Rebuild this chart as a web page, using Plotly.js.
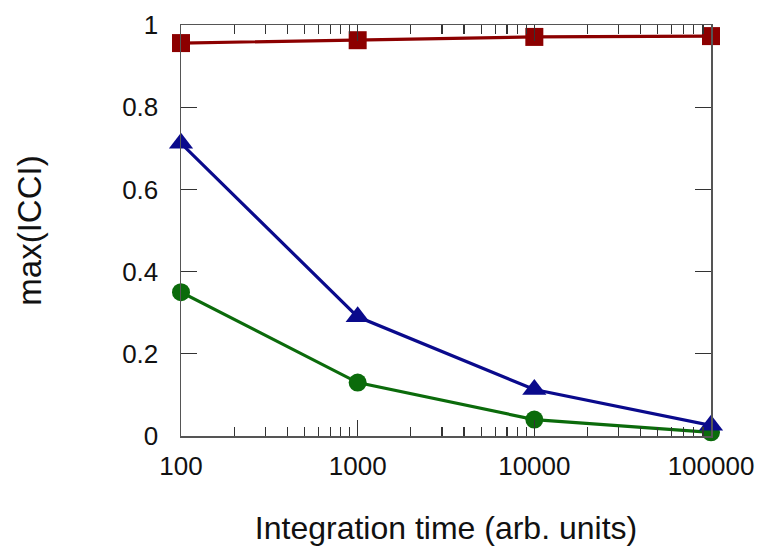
<!DOCTYPE html>
<html>
<head>
<meta charset="utf-8">
<script src="https://cdn.plot.ly/plotly-3.0.1.min.js"></script>
<style>html,body{margin:0;padding:0;background:#fff}#chart{width:758px;height:546px}</style>
</head>
<body>
<div id="chart"></div>
<script>
const integrationTime = [100, 1000, 10000, 100000];
const redSquares = [0.956, 0.963, 0.971, 0.973];
const blueTriangles = [0.712, 0.290, 0.113, 0.026];
const greenCircles = [0.350, 0.130, 0.040, 0.009];
const xTickVals = [100, 1000, 10000, 100000];
const xTickText = ['100', '1000', '10000', '100000'];
const yTickVals = [0, 0.2, 0.4, 0.6, 0.8, 1];
const yTickText = ['0', '0.2', '0.4', '0.6', '0.8', '1'];

const FONT = 'Liberation Sans, Arial, sans-serif';

function series(y, color, symbol, size) {
  return {
    x: integrationTime, y: y, type: 'scatter', mode: 'lines+markers',
    line: {color: color, width: 3.2},
    marker: {color: color, symbol: symbol, size: size},
    cliponaxis: false, showlegend: false
  };
}

const data = [
  series(greenCircles, '#0b6b0b', 'circle', 18),
  series(blueTriangles, '#0a0a8c', 'triangle-up', 21),
  series(redSquares, '#8c0000', 'square', 18)
];

const axisCommon = {
  showgrid: false, zeroline: false, showline: true, linecolor: '#555', linewidth: 1.5,
  mirror: 'ticks', ticks: 'inside', ticklen: 16, tickwidth: 1.2, tickcolor: '#333',
  tickfont: {family: FONT, size: 26, color: '#111'}
};

const layout = {
  width: 758, height: 546,
  margin: {l: 181, r: 47, t: 25, b: 110},
  paper_bgcolor: '#fff', plot_bgcolor: '#fff',
  xaxis: Object.assign({}, axisCommon, {
    type: 'log', range: [2, 5],
    tickmode: 'array', tickvals: xTickVals, ticktext: xTickText,
    ticklabelstandoff: 6,
    minor: {ticks: 'inside', ticklen: 9, tickwidth: 1.2, tickcolor: '#333', dtick: 'D1', showgrid: false},
    title: {text: 'Integration time (arb. units)', font: {family: FONT, size: 32, color: '#111'}, standoff: 39}
  }),
  yaxis: Object.assign({}, axisCommon, {
    range: [0, 1], tickmode: 'array', tickvals: yTickVals, ticktext: yTickText,
    ticklabelstandoff: 16,
    title: {text: 'max(ICCI)', font: {family: FONT, size: 33, color: '#111'}, standoff: 70}
  })
};

Plotly.newPlot('chart', data, layout, {displayModeBar: false, staticPlot: true});
</script>
</body>
</html>
